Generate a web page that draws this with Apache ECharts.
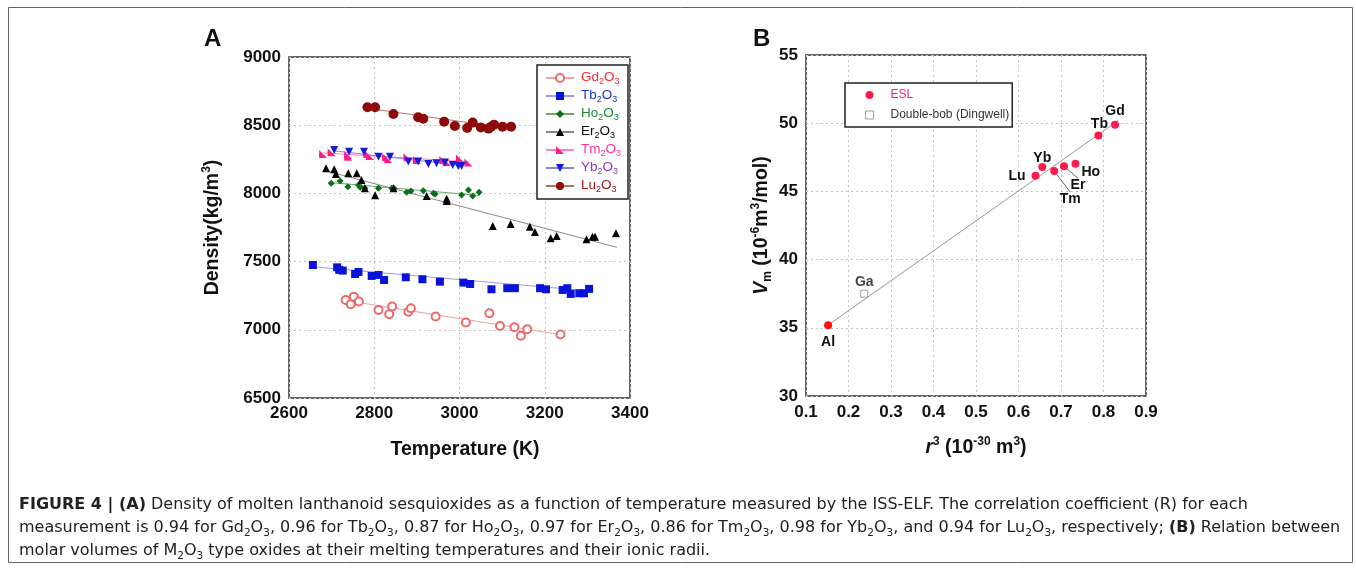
<!DOCTYPE html>
<html><head><meta charset="utf-8">
<script src="https://cdn.jsdelivr.net/npm/echarts@6/dist/echarts.min.js"></script>
<style>html,body{margin:0;padding:0;background:#fff}#c{width:1356px;height:573px}</style>
</head><body><div id="c"></div>
<script>
// ---------- Panel A data (Temperature K, Density kg/m3) ----------
const gdT = [2733,2745,2752,2764,2810,2835,2842,2880,2886,2944,3015,3070,3095,3129,3144,3159,3237];
const gdD = [7219,7187,7243,7207,7146,7114,7170,7133,7158,7097,7053,7121,7028,7019,6957,7004,6965];
const tbT = [2656,2713,2718,2726,2755,2763,2794,2810,2823,2874,2913,2954,3009,3025,3075,3112,3130,3189,3203,3242,3253,3261,3281,3292,3304];
const tbD = [7475,7458,7439,7434,7409,7424,7395,7402,7365,7385,7371,7353,7346,7336,7297,7305,7305,7305,7297,7292,7305,7263,7268,7268,7300];
const hoT = [2699,2720,2738,2763,2767,2778,2810,2841,2846,2876,2886,2915,2939,2943,3005,3021,3031,3046];
const hoD = [8074,8091,8049,8062,8045,8037,8037,8037,8037,8008,8018,8020,8001,7996,7989,8025,7981,8008];
const erT = [2687,2706,2710,2739,2759,2770,2778,2802,2845,2923,2970,2970,3078,3120,3165,3177,3214,3228,3298,3312,3318,3367];
const erD = [8184,8177,8142,8147,8147,8098,8037,7986,8037,7981,7944,7960,7761,7776,7756,7717,7671,7688,7664,7683,7683,7708];
const tmT = [2680,2700,2739,2739,2784,2790,2828,2833,2878,2900,2962,2970,3001,3021];
const tmD = [8289,8301,8279,8269,8289,8274,8265,8250,8265,8245,8245,8230,8255,8226];
const ybT = [2706,2741,2776,2810,2837,2880,2903,2927,2946,2966,2984,2997,3005];
const ybD = [8318,8306,8306,8269,8269,8233,8233,8216,8221,8226,8208,8201,8201];
const luT = [2784,2802,2845,2903,2915,2964,2989,3018,3031,3050,3068,3074,3081,3101,3121];
const luD = [8631,8631,8582,8558,8548,8526,8494,8480,8519,8484,8475,8489,8504,8489,8489];
// fitted lines (end points)
const gdFitT = [2733,3237], gdFitD = [7215,6965];
const tbFitT = [2656,3304], tbFitD = [7462,7285];
const hoFitT = [2699,3046], hoFitD = [8079,7985];
const erFitT = [2684,3369], erFitD = [8167,7605];
const tmFitT = [2680,3021], tmFitD = [8297,8232];
const ybFitT = [2706,3005], ybFitD = [8312,8205];
const luFitT = [2784,3121], luFitD = [8624,8475];
const aXTicks = [2600,3400,200];
const aYTicks = [6500,9000,500];

// ---------- Panel B data (r^3, Vm) ----------
const eslNames = ['Al','Lu','Yb','Tm','Er','Ho','Tb','Gd'];
const eslX = [0.152,0.640,0.656,0.684,0.707,0.734,0.788,0.827];
const eslY = [35.19,46.14,46.78,46.49,46.85,47.02,49.10,49.88];
const dbNames = ['Ga'];
const dbX = [0.237];
const dbY = [37.5];
const bFitX = [0.152,0.835], bFitY = [35.2,50.2];
const bXTicks = [0.1,0.9,0.1];
const bYTicks = [30,55,5];

// ---------- styles ----------
const FF = "'Liberation Sans', Arial, sans-serif";
const CF = "'DejaVu Sans', sans-serif";
const aKeys = ['Gd','Tb','Ho','Er','Tm','Yb','Lu'];
const aData = {Gd:[gdT,gdD,gdFitT,gdFitD],Tb:[tbT,tbD,tbFitT,tbFitD],Ho:[hoT,hoD,hoFitT,hoFitD],Er:[erT,erD,erFitT,erFitD],Tm:[tmT,tmD,tmFitT,tmFitD],Yb:[ybT,ybD,ybFitT,ybFitD],Lu:[luT,luD,luFitT,luFitD]};
const aStyle = {
  Gd:{sym:'emptyCircle', size:8, mark:'#ee6a6a', line:'#f2a0a0', text:'#ff2a2a'},
  Tb:{sym:'rect', size:8, mark:'#0a14d8', line:'#9a9ae8', text:'#2030d0'},
  Ho:{sym:'diamond', size:7, mark:'#0e6e1a', line:'#6aa870', text:'#1a8a30'},
  Er:{sym:'triangle', size:8, mark:'#000000', line:'#8a8a8a', text:'#111111'},
  Tm:{sym:'path://M0,0L0,10L10,10Z', size:8, mark:'#ff1a8c', line:'#ff80b8', text:'#ff3399'},
  Yb:{sym:'path://M0,0L10,0L5,9Z', size:8, mark:'#1818d8', line:'#8a80e0', text:'#9030d0'},
  Lu:{sym:'circle', size:10, mark:'#8e0a0a', line:'#b87070', text:'#a01818'}
};

const series = [];
const legendRich = {};
aKeys.forEach(k => {
  const st = aStyle[k], d = aData[k], nm = k + '2O3';
  legendRich[k] = {color: st.text, fontSize: 13.5, fontFamily: FF, lineHeight: 15, verticalAlign:'top'};
  legendRich[k + 's'] = {color: st.text, fontSize: 9, fontFamily: FF, lineHeight: 16, verticalAlign:'bottom'};
  series.push({
    type:'line', name:nm, xAxisIndex:0, yAxisIndex:0, silent:true,
    data: d[2].map((t,i)=>[t, d[3][i]]),
    symbol: st.sym, symbolSize: st.size, showSymbol:false,
    itemStyle:{color: st.mark, borderColor: st.mark},
    lineStyle:{color: st.line, width:1}, z:2
  });
  series.push({
    type:'scatter', name:nm, xAxisIndex:0, yAxisIndex:0, silent:true,
    data: d[0].map((t,i)=>[t, d[1][i]]),
    symbol: st.sym, symbolSize: st.size,
    itemStyle: {color: st.mark, opacity:1},
    z:3
  });
});

// Panel B
const bLabel = {
  Al:{position:'bottom', distance:6},
  Lu:{position:'left', distance:6},
  Yb:{position:'top', distance:3},
  Tm:{position:'bottom', distance:3},
  Er:{position:'bottom', distance:3},
  Ho:{position:'right', distance:2},
  Tb:{position:'top', distance:3},
  Gd:{position:'top', distance:3},
  Ga:{position:'top', distance:4}
};
const bLayout = {Tm:{dx:16, dy:14}, Er:{dx:14, dy:5}, Ho:{dx:0, dy:8}, Yb:{dx:0, dy:5}, Tb:{dx:1, dy:3}, Gd:{dx:0, dy:0}, Ga:{dx:0, dy:3}};
const bLeader = {Tm:true, Er:true};
const bLabelStyle = {show:true, color:'#111', fontWeight:'bold', fontSize:14, fontFamily:FF, formatter: p => p.name};
series.push({
  type:'line', name:'fitB', xAxisIndex:1, yAxisIndex:1, silent:true, showSymbol:false, symbol:'none',
  data: bFitX.map((x,i)=>[x,bFitY[i]]), lineStyle:{color:'#9a9a9a', width:1}, z:2
});
series.push({
  type:'scatter', name:'ESL', xAxisIndex:1, yAxisIndex:1, silent:true, symbol:'circle', symbolSize:8,
  itemStyle:{color:'#ff1a4c', opacity:1},
  data: eslNames.map((n,i)=>({name:n, value:[eslX[i], eslY[i]],
    itemStyle: n==='Al'?{color:'#ff1010'}:undefined,
    label: Object.assign({}, bLabelStyle, bLabel[n]),
    labelLine: bLeader[n] ? {show:true, lineStyle:{color:'#666', width:1}} : {show:false}})),
  labelLayout: p => { const n = eslNames[p.dataIndex]; return bLayout[n] ? {dx:bLayout[n].dx, dy:bLayout[n].dy} : {}; },
  z:3
});
series.push({
  type:'scatter', name:'Double-bob (Dingwell)', xAxisIndex:1, yAxisIndex:1, silent:true, symbol:'rect', symbolSize:7,
  itemStyle:{color:'#fff', borderColor:'#8a8a8a', borderWidth:1},
  data: dbNames.map((n,i)=>({name:n, value:[dbX[i], dbY[i]], label:Object.assign({}, bLabelStyle, bLabel[n])})),
  labelLayout: p => { const n = dbNames[p.dataIndex]; return bLayout[n] ? {dx:bLayout[n].dx, dy:bLayout[n].dy} : {}; },
  z:3
});

const axisLbl = {color:'#111', fontWeight:'bold', fontSize:17, fontFamily:FF};
const splitL = {show:true, lineStyle:{color:'#c4c4c4', type:[2,3], width:1}};
const gridBorder = {show:true, borderColor:'#333', borderWidth:1.5, backgroundColor:'transparent'};
const NS = 19.5;
const supRich = {
  n:{fontSize:NS, fontWeight:'bold', fontFamily:FF, color:'#111', lineHeight:24},
  i:{fontSize:NS, fontWeight:'bold', fontStyle:'italic', fontFamily:FF, color:'#111', lineHeight:24},
  sup:{fontSize:12, fontWeight:'bold', fontFamily:FF, color:'#111', lineHeight:12, verticalAlign:'top'},
  sub:{fontSize:12, fontWeight:'bold', fontFamily:FF, color:'#111', lineHeight:12, verticalAlign:'bottom'}
};

const capRich = {
  b:{fontWeight:'bold', fontSize:16, fontFamily:CF, color:'#222', lineHeight:23},
  s:{fontSize:10.5, fontFamily:CF, color:'#222', lineHeight:13, verticalAlign:'bottom'}
};
const sub = (a,b) => `${a}{s|2}${b}{s|3}`;
const cap1 = '{b|FIGURE 4 | (A)} Density of molten lanthanoid sesquioxides as a function of temperature measured by the ISS-ELF. The correlation coefficient (R) for each';
const cap2 = `measurement is 0.94 for ${sub('Gd','O')}, 0.96 for ${sub('Tb','O')}, 0.87 for ${sub('Ho','O')}, 0.97 for ${sub('Er','O')}, 0.86 for ${sub('Tm','O')}, 0.98 for ${sub('Yb','O')}, and 0.94 for ${sub('Lu','O')}, respectively; {b|(B)} Relation between`;
const cap3 = `molar volumes of ${sub('M','O')} type oxides at their melting temperatures and their ionic radii.`;

const option = {
  animation:false,
  backgroundColor:'#fff',
  title:[
    {text:'A', left:199, top:22, textStyle:{fontSize:24, fontWeight:'bold', fontFamily:FF, color:'#111'}},
    {text:'B', left:748, top:22, textStyle:{fontSize:24, fontWeight:'bold', fontFamily:FF, color:'#111'}},
    {text: cap1 + '\n' + cap2 + '\n' + cap3, left:14, top:488,
     textStyle:{fontSize:16, fontFamily:CF, color:'#222', lineHeight:23, fontWeight:'normal', rich:capRich}}
  ],
  graphic:[{type:'rect', shape:{x:8.5, y:7.5, width:1344, height:555}, style:{fill:'none', stroke:'#666', lineWidth:1}, silent:true, z:-1}],
  legend:[
    {data: aKeys.map(k=>k+'2O3'), orient:'vertical', left:537, top:65, itemWidth:28, itemHeight:10, itemGap:2,
     padding:[5,7,5,8], borderColor:'#222', borderWidth:1.5, backgroundColor:'#fff',
     selectedMode:false, textStyle:{fontSize:13.5, fontFamily:FF, rich:legendRich, padding:[0,0,0,2]},
     formatter: n => { const k = n.slice(0,2); return `{${k}|${k}}{${k}s|2}{${k}|O}{${k}s|3}`; }},
    {data:[{name:'ESL', textStyle:{color:'#ff2060'}},
           {name:'Double-bob (Dingwell)', icon:'path://M0,0L10,0L10,10L0,10Z', itemStyle:{color:'#fff', borderColor:'#888', borderWidth:1}, textStyle:{color:'#333'}}],
     orient:'vertical', left:845, top:83, itemWidth:20, itemHeight:8, itemGap:8,
     padding:[6,3,6,20], borderColor:'#222', borderWidth:1.5, backgroundColor:'#fff', selectedMode:false,
     textStyle:{fontSize:12, fontFamily:FF, padding:[0,0,0,6]}}
  ],
  grid:[
    Object.assign({left:289, top:57, width:341, height:341}, gridBorder),
    Object.assign({left:806, top:55, width:340, height:341}, gridBorder)
  ],
  xAxis:[
    {type:'value', gridIndex:0, min:aXTicks[0], max:aXTicks[1], interval:aXTicks[2],
     axisLine:{show:false}, axisTick:{show:false}, splitLine:splitL,
     axisLabel:Object.assign({margin:7, formatter:v=>String(v)}, axisLbl),
     name:'Temperature (K)', nameLocation:'middle', nameGap:42,
     nameTextStyle:{fontSize:NS, fontWeight:'bold', fontFamily:FF, color:'#111', padding:[0,0,0,11]}},
    {type:'value', gridIndex:1, min:bXTicks[0], max:bXTicks[1], interval:bXTicks[2],
     axisLine:{show:false}, axisTick:{show:false}, splitLine:splitL,
     axisLabel:Object.assign({margin:8, formatter:v=>v.toFixed(1)}, axisLbl),
     name:'{i|r}{sup|3}{n| (10}{sup|-30}{n| m}{sup|3}{n|)}', nameLocation:'middle', nameGap:40,
     nameTextStyle:{rich:supRich}}
  ],
  yAxis:[
    {type:'value', gridIndex:0, min:aYTicks[0], max:aYTicks[1], interval:aYTicks[2],
     axisLine:{show:false}, axisTick:{show:false}, splitLine:splitL,
     axisLabel:Object.assign({margin:8, formatter:v=>String(v)}, axisLbl),
     name:'{n|Density(kg/m}{sup|3}{n|)}', nameLocation:'middle', nameGap:64, nameRotate:90,
     nameTextStyle:{rich:{n:Object.assign({}, supRich.n), sup:supRich.sup}}},
    {type:'value', gridIndex:1, min:bYTicks[0], max:bYTicks[1], interval:bYTicks[2],
     axisLine:{show:false}, axisTick:{show:false}, splitLine:splitL,
     axisLabel:Object.assign({margin:8}, axisLbl),
     name:'{i|V}{sub|m}{n| (10}{sup|-6}{n|m}{sup|3}{n|/mol)}', nameLocation:'middle', nameGap:32, nameRotate:90,
     nameTextStyle:{rich:supRich}}
  ],
  series: series
};
const chart = echarts.init(document.getElementById('c'));
chart.setOption(option);
</script></body></html>
